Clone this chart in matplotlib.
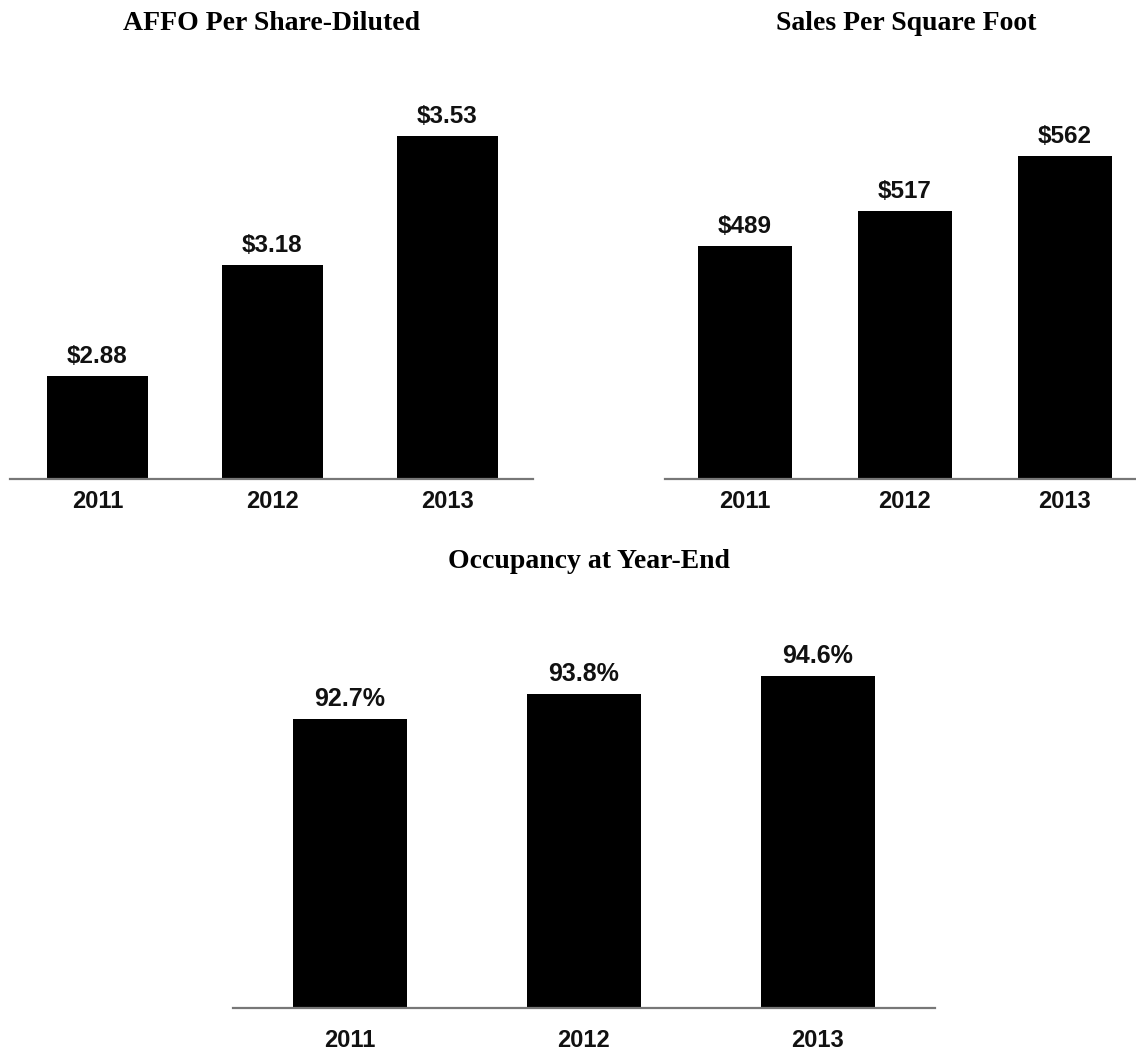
import matplotlib
matplotlib.use("Agg")
import matplotlib.pyplot as plt

years = ["2011", "2012", "2013"]

affo = [2.88, 3.18, 3.53]
affo_labels = ["$2.88", "$3.18", "$3.53"]

sales = [489, 517, 562]
sales_labels = ["$489", "$517", "$562"]

occupancy = [92.7, 93.8, 94.6]
occupancy_labels = ["92.7%", "93.8%", "94.6%"]

W, H = 1136, 1055
fig = plt.figure(figsize=(W / 100, H / 100), dpi=100)

SANS = "Liberation Sans"
SERIF = "Liberation Serif"


def px_axes(x0, x1, ytop, ybot):
    # axes placed by pixel edges (origin at top-left of the picture)
    return fig.add_axes([x0 / W, 1 - ybot / H, (x1 - x0) / W, (ybot - ytop) / H])


def draw_bars(ax, values, labels, width, xlim, ylim, pad, fs):
    x = range(len(values))
    ax.bar(x, values, width=width, color="black", edgecolor="none")
    ax.set_xlim(*xlim)
    ax.set_ylim(*ylim)
    for xi, v, lab in zip(x, values, labels):
        ax.annotate(lab, (xi, v), xytext=(0, 9.4), textcoords="offset points",
                    ha="center", va="baseline", fontsize=fs,
                    fontfamily=SANS, fontweight="bold", color="#111111")
    ax.set_xticks(list(x))
    ax.set_xticklabels(years, fontsize=17, fontfamily=SANS,
                       fontweight="bold", color="#111111")
    ax.tick_params(axis="x", length=0, pad=pad)
    ax.set_yticks([])
    for side in ["top", "left", "right"]:
        ax.spines[side].set_visible(False)
    ax.spines["bottom"].set_color("#777777")
    ax.spines["bottom"].set_linewidth(1.6)
    ax.patch.set_alpha(0)


ax1 = px_axes(10, 533, 100, 479)
draw_bars(ax1, affo, affo_labels, 0.58, (-0.5, 2.49),
          (2.6, 2.6 + 379 / 369.0), 8, 17.5)

ax2 = px_axes(665, 1136, 100, 479)
draw_bars(ax2, sales, sales_labels, 0.59, (-0.5, 2.444),
          (300, 300 + 379 / 1.233), 8, 17.5)

ax3 = px_axes(233, 935, 620, 1008)
draw_bars(ax3, occupancy, occupancy_labels, 0.485, (-0.5, 2.5),
          (80, 80 + 388 / 22.76), 15, 18)

title_kw = dict(fontsize=20, fontfamily=SERIF, fontweight="bold",
                ha="center", va="baseline", color="black")
fig.text(271.5 / W, 1 - 30 / H, "AFFO Per Share-Diluted", **title_kw)
fig.text(906 / W, 1 - 30 / H, "Sales Per Square Foot", **title_kw)
fig.text(589 / W, 1 - 568 / H, "Occupancy at Year-End", **title_kw)

fig.savefig("out.png", dpi=100, facecolor="white")
